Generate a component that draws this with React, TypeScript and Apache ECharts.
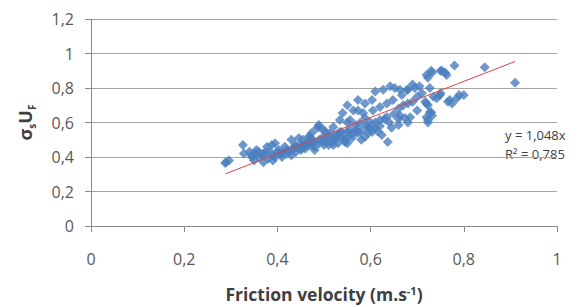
import React, { useEffect, useRef } from "react";
import * as echarts from "echarts";

const xTicks = ["0", "0,2", "0,4", "0,6", "0,8", "1"];
const yTicks = ["0", "0,2", "0,4", "0,6", "0,8", "1", "1,2"];

// friction velocity values
const frictionX = [
  0.288, 0.29, 0.296, 0.326, 0.328, 0.34, 0.345, 0.352, 0.36, 0.35, 0.367, 0.378, 0.388, 0.395, 0.384,
  0.403, 0.395, 0.41, 0.416, 0.425, 0.43, 0.438, 0.446, 0.453, 0.459, 0.468, 0.474, 0.489, 0.48, 0.496,
  0.502, 0.36, 0.37, 0.38, 0.39, 0.4, 0.41, 0.42, 0.43, 0.44, 0.44, 0.45, 0.46, 0.47, 0.48,
  0.49, 0.5, 0.51, 0.52, 0.53, 0.54, 0.55, 0.56, 0.57, 0.58, 0.59, 0.6, 0.61, 0.62, 0.63,
  0.64, 0.65, 0.66, 0.67, 0.69, 0.7, 0.71, 0.37, 0.39, 0.55, 0.58, 0.452, 0.52, 0.49, 0.455,
  0.47, 0.476, 0.506, 0.528, 0.549, 0.513, 0.534, 0.556, 0.57, 0.52, 0.5, 0.485, 0.49, 0.534, 0.556,
  0.577, 0.599, 0.62, 0.635, 0.54, 0.55, 0.563, 0.584, 0.605, 0.62, 0.635, 0.648, 0.573, 0.588, 0.603,
  0.61, 0.627, 0.642, 0.663, 0.678, 0.69, 0.705, 0.637, 0.66, 0.663, 0.685, 0.7, 0.68, 0.66, 0.72,
  0.73, 0.72, 0.735, 0.75, 0.77, 0.785, 0.8, 0.72, 0.73, 0.75, 0.76, 0.78, 0.845, 0.91, 0.51,
  0.523, 0.538, 0.55, 0.573, 0.588, 0.61, 0.603, 0.674, 0.68, 0.717, 0.723, 0.667, 0.68, 0.695,
  0.652, 0.545, 0.56, 0.573, 0.588, 0.624, 0.594, 0.567, 0.753, 0.763, 0.732, 0.723, 0.727, 0.749,
  0.742, 0.79, 0.766, 0.775, 0.723, 0.727, 0.732, 0.723, 0.42, 0.43, 0.45, 0.47, 0.48, 0.5, 0.53,
  0.345, 0.355, 0.375, 0.405, 0.435, 0.465, 0.515, 0.545, 0.595, 0.615, 0.645
];

// sigma_s U_F values
const sigmaY = [
  0.365, 0.37, 0.38, 0.47, 0.42, 0.43, 0.4, 0.42, 0.43, 0.38, 0.41, 0.46, 0.47, 0.48, 0.43,
  0.44, 0.4, 0.42, 0.46, 0.43, 0.5, 0.47, 0.51, 0.45, 0.48, 0.52, 0.54, 0.585, 0.49, 0.51,
  0.545, 0.4, 0.42, 0.39, 0.41, 0.43, 0.4, 0.44, 0.41, 0.43, 0.46, 0.44, 0.45, 0.47, 0.46,
  0.5, 0.49, 0.52, 0.5, 0.53, 0.51, 0.55, 0.53, 0.56, 0.55, 0.58, 0.57, 0.6, 0.58, 0.62,
  0.6, 0.65, 0.62, 0.7, 0.72, 0.75, 0.77, 0.37, 0.38, 0.48, 0.5, 0.458, 0.47, 0.48, 0.5,
  0.516, 0.487, 0.5, 0.51, 0.516, 0.539, 0.545, 0.556, 0.545, 0.574, 0.556, 0.568, 0.574, 0.615, 0.615,
  0.597, 0.603, 0.615, 0.632, 0.655, 0.7, 0.67, 0.655, 0.67, 0.69, 0.71, 0.73, 0.73, 0.71, 0.73,
  0.78, 0.79, 0.81, 0.79, 0.79, 0.82, 0.81, 0.487, 0.585, 0.64, 0.63, 0.67, 0.71, 0.68, 0.63,
  0.66, 0.71, 0.75, 0.77, 0.73, 0.74, 0.76, 0.875, 0.9, 0.9, 0.89, 0.93, 0.92, 0.83, 0.47,
  0.516, 0.545, 0.6, 0.67, 0.626, 0.568, 0.545, 0.626, 0.6, 0.72, 0.6, 0.76, 0.79, 0.8,
  0.8, 0.487, 0.51, 0.54, 0.516, 0.527, 0.574, 0.585, 0.9, 0.875, 0.89, 0.86, 0.8, 0.76,
  0.74, 0.76, 0.72, 0.71, 0.7, 0.66, 0.64, 0.615, 0.42, 0.44, 0.47, 0.49, 0.44, 0.47, 0.48,
  0.41, 0.44, 0.43, 0.42, 0.45, 0.47, 0.49, 0.5, 0.54, 0.55, 0.57
];

// linear trendline through origin, over the data range
const trendSlope = 1.048;
const trendRange = [0.288, 0.91];
const equationLines = ["y = 1,048x", "R² = 0,785"];

const FONT = "'Open Sans', 'Liberation Sans', sans-serif";

export default function App() {
  const ref = useRef<HTMLDivElement>(null);

  useEffect(() => {
    if (!ref.current) return;
    const chart = echarts.init(ref.current, null, { renderer: "svg" });
    const points = frictionX.map((x, i) => [x, sigmaY[i]]);
    const trend = trendRange.map((x) => [x, x * trendSlope]);

    chart.setOption({
      animation: false,
      backgroundColor: "#ffffff",
      grid: { left: 91, right: 25, top: 19, bottom: 81, containLabel: false, outerBoundsMode: "none" },
      xAxis: {
        type: "value",
        min: 0,
        max: 1,
        interval: 0.2,
        splitLine: { show: false },
        axisLine: { show: true, lineStyle: { color: "#8c8c8c", width: 1 } },
        axisTick: { show: true, length: 6, lineStyle: { color: "#8c8c8c" } },
        axisLabel: {
          margin: 25,
          color: "#595959",
          fontSize: 16,
          fontFamily: FONT,
          formatter: (v: number) => xTicks[Math.round(v * 5)] ?? "",
        },
        name: "{m|Friction velocity (m.s}{p|-1}{m|)}",
        nameLocation: "middle",
        nameGap: 59,
        nameTextStyle: {
          rich: {
            m: { fontSize: 17.5, fontWeight: "bold", color: "#404040", fontFamily: FONT, lineHeight: 18 },
            p: { fontSize: 11, fontWeight: "bold", color: "#404040", fontFamily: FONT, verticalAlign: "top", lineHeight: 10 },
          },
        },
      },
      yAxis: {
        type: "value",
        min: 0,
        max: 1.2,
        interval: 0.2,
        splitLine: { show: true, lineStyle: { color: "#a6a6a6", width: 1 } },
        axisLine: { show: true, lineStyle: { color: "#8c8c8c", width: 1 } },
        axisTick: { show: true, length: 6, lineStyle: { color: "#8c8c8c" } },
        axisLabel: {
          margin: 17,
          color: "#595959",
          fontSize: 16,
          fontFamily: FONT,
          formatter: (v: number) => yTicks[Math.round(v * 5)] ?? "",
        },
        name: "{m|σ}{s|s}{m|U}{s|F}",
        nameLocation: "middle",
        nameGap: 54,
        nameRotate: 90,
        nameTextStyle: {
          rich: {
            m: { fontSize: 18, fontWeight: "bold", color: "#404040", fontFamily: FONT, lineHeight: 24 },
            s: { fontSize: 10, fontWeight: "bold", color: "#404040", fontFamily: FONT, verticalAlign: "bottom", lineHeight: 12 },
          },
        },
      },
      series: [
        {
          type: "scatter",
          data: points,
          symbol: "diamond",
          symbolSize: 10,
          itemStyle: { color: "#4A7EBF" },
          z: 2,
        },
        {
          type: "line",
          data: trend,
          showSymbol: false,
          symbol: "none",
          lineStyle: { color: "#D9434A", width: 1 },
          z: 3,
        },
      ],
      graphic: [
        {
          type: "text",
          left: 505,
          top: 128,
          style: { text: equationLines[0], fill: "#404040", fontSize: 13, fontFamily: FONT },
        },
        {
          type: "text",
          left: 505,
          top: 147,
          style: { text: equationLines[1], fill: "#404040", fontSize: 13, fontFamily: FONT },
        },
      ],
    });
    return () => chart.dispose();
  }, []);

  return <div ref={ref} style={{ width: 582, height: 307, position: "absolute", left: 0, top: 0 }} />;
}
